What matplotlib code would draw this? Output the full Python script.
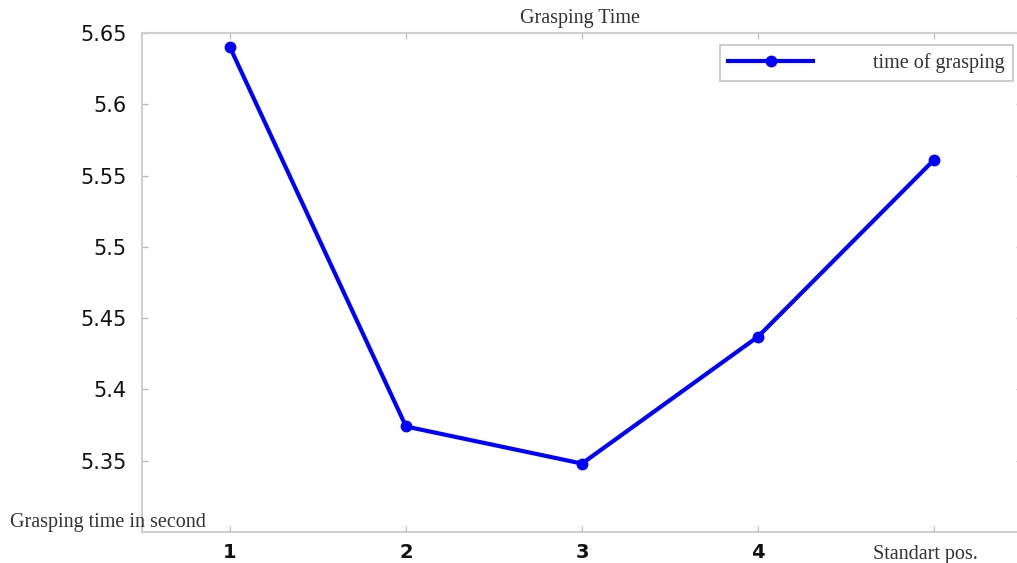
import matplotlib
matplotlib.use("Agg")
import matplotlib.pyplot as plt

# Grasping time per position
positions = [1, 2, 3, 4, 5]
grasp_time = [5.640, 5.374, 5.348, 5.437, 5.561]
x_tick_labels = ["1", "2", "3", "4", "Standart pos."]
y_ticks = [5.35, 5.40, 5.45, 5.50, 5.55, 5.60, 5.65]
y_tick_labels = ["5.35", "5.4", "5.45", "5.5", "5.55", "5.6", "5.65"]

serif = ["Liberation Serif", "DejaVu Serif"]
sans = ["DejaVu Sans"]
spine_grey = "#cfcfcf"

fig = plt.figure(figsize=(10.17, 5.63), dpi=100)
ax = fig.add_axes([142 / 1017, 1 - 532 / 563, 880 / 1017, (532 - 33) / 563])

ax.plot(positions, grasp_time, color="#0000ff", lw=3.0, marker="o",
        markersize=7.5, label="time of grasping", solid_joinstyle="round")

ax.set_xlim(0.5, 5.5)
ax.set_ylim(5.30, 5.65)
ax.set_xticks(positions)
ax.set_xticklabels(x_tick_labels[:4] + [""], fontfamily=sans, fontsize=14,
                   fontweight="bold", color="#111111")
ax.set_yticks(y_ticks)
ax.set_yticklabels(y_tick_labels, fontfamily=sans, fontsize=15,
                   color="#111111")

for s in ax.spines.values():
    s.set_color(spine_grey)
    s.set_linewidth(1.5)
ax.tick_params(direction="in", length=4, width=1, color="#bdbdbd",
               top=True, right=True, pad=8)
ax.tick_params(axis="y", pad=11)

# axis captions and title
ax.text(4.95, 5.30 - 0.0092, x_tick_labels[-1], transform=ax.transData,
        fontfamily=serif, fontsize=14.5, color="#333333",
        ha="center", va="top")
fig.text(10 / 1017, 1 - 523 / 563, "Grasping time in second",
         fontfamily=serif, fontsize=14.5, color="#333333",
         ha="left", va="center")
fig.text(580 / 1017, 1 - 19 / 563, "Grasping Time", fontfamily=serif,
         fontsize=14.5, color="#333333", ha="center", va="center")

leg = ax.legend(loc="upper right",
                bbox_to_anchor=(1013 / 1017, 1 - 45 / 563),
                bbox_transform=fig.transFigure, borderaxespad=0,
                prop={"family": serif, "size": 14.5},
                handlelength=4.2, handletextpad=3.0, borderpad=0.4,
                fancybox=False, frameon=True, framealpha=1)
leg.get_frame().set_edgecolor("#c4c4c4")
leg.get_frame().set_linewidth(1.2)
for t in leg.get_texts():
    t.set_color("#333333")

fig.savefig("out.png", dpi=100)
